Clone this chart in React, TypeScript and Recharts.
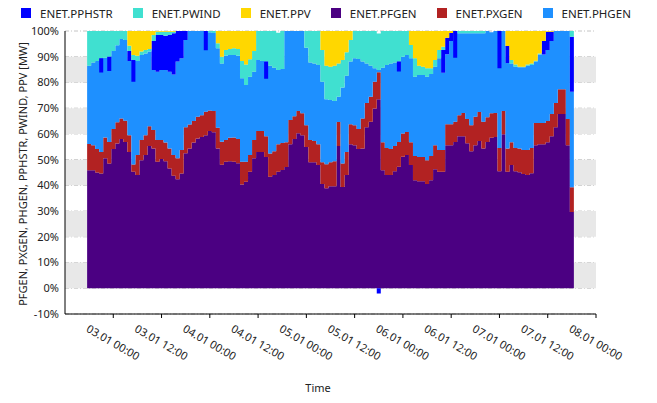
import { AreaChart, Area, XAxis, YAxis, CartesianGrid, ReferenceArea, Label } from 'recharts';

const FONT = '"Noto Sans", "DejaVu Sans", sans-serif';

// hours counted from 02.01 12:00; first sample is 02.01 18:00, one sample per hour
const firstHour = 6;

// shares of the total, in %
const pfgen = [
  45.9, 45.9, 45.0, 44.6, 50.5, 48.5, 54.1, 56.3, 58.0, 56.9,
  53.0, 45.3, 44.0, 49.8, 51.8, 55.3, 54.3, 49.2, 50.2, 49.4,
  46.6, 43.7, 42.4, 44.6, 52.5, 54.3, 56.7, 58.2, 58.8, 59.5,
  61.1, 60.6, 54.3, 48.0, 49.2, 49.4, 49.2, 48.6, 40.3, 41.4,
  45.3, 50.5, 53.0, 53.0, 51.0, 43.3, 44.0, 45.3, 46.0, 47.1,
  56.0, 58.0, 60.3, 59.5, 54.9, 49.0, 49.0, 47.9, 40.5, 38.9,
  39.7, 39.7, 55.3, 39.4, 44.0, 56.0, 55.6, 54.1, 54.3, 62.6,
  64.7, 69.9, 73.5, 45.9, 44.0, 44.0, 45.5, 47.2, 51.1, 51.8,
  47.9, 42.0, 41.6, 41.6, 40.5, 42.0, 46.3, 45.3, 45.3, 55.6,
  55.6, 56.9, 59.1, 59.1, 56.4, 53.3, 55.6, 57.2, 54.3, 56.9,
  58.5, 58.8, 45.5, 59.9, 45.3, 47.9, 45.5, 45.1, 44.4, 44.0,
  44.7, 55.6, 56.0, 56.0, 56.8, 59.1, 62.6, 67.7, 67.7, 55.6, 29.6,
];
const pxgen = [
  10.2, 9.7, 9.1, 8.4, 8.1, 8.4, 7.8, 8.2, 8.0, 8.2,
  6.5, 2.8, 7.8, 7.8, 7.7, 7.7, 7.2, 8.4, 7.4, 7.3,
  7.7, 8.1, 8.1, 9.1, 10.1, 9.4, 8.3, 8.5, 8.5, 9.1,
  8.0, 8.3, 8.1, 9.0, 8.4, 9.1, 9.4, 9.4, 8.9, 7.8,
  6.5, 7.1, 8.1, 8.1, 8.1, 9.1, 9.3, 10.7, 10.5, 9.7,
  9.4, 8.9, 8.6, 8.5, 8.5, 8.6, 8.2, 8.1, 8.5, 9.3,
  9.3, 9.7, 9.3, 9.1, 9.0, 7.8, 7.8, 7.8, 11.7, 9.4,
  9.7, 10.4, 10.5, 10.9, 10.5, 10.1, 9.8, 9.7, 9.1, 8.9,
  8.9, 9.4, 9.4, 9.4, 9.3, 9.4, 9.3, 8.4, 8.4, 8.2,
  8.2, 7.8, 8.2, 9.0, 9.4, 10.1, 11.1, 11.3, 10.4, 9.6,
  9.5, 9.3, 9.0, 9.0, 9.0, 8.9, 9.0, 9.2, 9.3, 9.7,
  9.8, 8.6, 8.2, 8.2, 8.2, 8.6, 9.4, 9.7, 9.7, 10.2, 9.7,
];
const phgen = [
  30.4, 32.2, 34.2, 36.4, 31.0, 33.1, 30.3, 30.0, 30.9, 31.4,
  28.8, 40.6, 36.5, 33.1, 31.8, 29.0, 23.3, 26.6, 27.2, 28.1,
  29.9, 31.3, 37.6, 35.7, 33.9, 36.3, 35.0, 33.3, 32.7, 31.4,
  30.4, 30.3, 30.9, 30.4, 32.8, 32.2, 32.1, 32.4, 32.4, 29.8,
  30.4, 26.6, 27.6, 27.2, 29.0, 34.1, 32.4, 28.8, 28.7, 43.2,
  34.6, 33.1, 31.1, 32.0, 30.1, 30.2, 30.2, 30.8, 31.3, 25.3,
  24.2, 23.4, 9.8, 29.5, 29.6, 24.3, 26.0, 27.2, 22.1, 15.4,
  12.1, 5.2, 0.8, 28.9, 32.3, 33.3, 32.5, 31.2, 29.8, 30.0,
  32.6, 30.8, 31.9, 31.9, 32.4, 31.9, 30.5, 35.7, 30.1, 27.2,
  32.3, 35.3, 31.8, 31.0, 33.3, 35.7, 32.4, 30.6, 34.4, 33.5,
  31.5, 31.9, 45.5, 31.1, 33.3, 30.6, 31.6, 31.6, 32.2, 32.8,
  32.3, 23.9, 26.7, 26.7, 27.6, 28.4, 28.0, 22.9, 22.9, 34.2, 37.1,
];
// negative = pumping
const pphstr = [
  0, 0, 0, -5.5, 0, -5.5, 0, 0, 0, 0,
  3.9, -8.4, 0, 0, 0, 0, 11.3, 14.2, 13.6, 13.4,
  14.2, 16.0, 11.9, 10.6, 3.5, 0, 0, 0, 0, -7.5,
  0, 0, 0, 0, 0, 0, 0, 0, 0, 0,
  0, 0, 0, 0, -6.7, 0, 0, 0, 0, 0,
  0, 0, 0, 0, 0, 0, 0, 0, 0, 0,
  0, 0, 0, 0, 0, 0, 0, 0, 0, 0,
  0, 0, 0, 0, 0, 0, 0, -3.8, 0, 0,
  0, 0, 0, 0, 0, 0, 0, 0, 8.8, 6.4,
  3.1, -10.4, 0, 0, 0, 0, 0, 0, 0, 0,
  0, 0, -14.5, 0, 6.6, 0, 0, 0, 0, 0,
  0, 0, 0, 5.2, 7.1, 3.6, 0, 0, 0, 0, 21.4,
];
const pwind = [
  13.5, 12.2, 11.7, 10.6, 10.4, 10.0, 7.8, 5.5, 3.1, 3.5,
  2.1, 2.0, 2.1, 1.3, 1.3, 1.0, 2.3, 1.3, 1.3, 1.5,
  1.3, 0.6, 0, 0, 0, 0, 0, 0, 0, 0,
  0.5, 0.8, 1.9, 2.6, 2.2, 2.3, 2.6, 2.6, 6.7, 8.0,
  6.8, 8.0, 11.3, 11.7, 11.9, 13.5, 14.3, 14.5, 14.8, 0,
  0, 0, 0, 0, 6.5, 12.2, 12.6, 13.2, 12.3, 13.0,
  12.9, 13.7, 13.0, 10.7, 9.1, 8.4, 10.6, 10.9, 11.9, 12.6,
  13.5, 14.5, 14.2, 14.3, 13.2, 12.6, 12.2, 11.9, 10.0, 9.3,
  5.2, 7.2, 3.6, 3.2, 3.3, 2.2, 2.6, 3.2, 1.3, 0,
  0, 0, 0.9, 0.9, 0.9, 0.9, 0.9, 0.9, 0.9, 0,
  0, 0, 0, 0, 0, 1.3, 0.9, 0.2, 0.2, 0.5,
  0.6, 0.3, 0.4, 0, 0, 0, 0, 0, 0, 0, 2.2,
];
const ppv = [
  0, 0, 0, 0, 0, 0, 0, 0, 0, 0,
  5.7, 9.3, 9.6, 8.0, 7.4, 7.0, 1.6, 0.3, 0.3, 0.3,
  0.3, 0.3, 0, 0, 0, 0, 0, 0, 0, 0,
  0, 0, 4.8, 10.0, 7.4, 7.0, 6.7, 7.0, 11.7, 13.0,
  11.0, 7.8, 0, 0, 0, 0, 0, 0, 0, 0,
  0, 0, 0, 0, 0, 0, 0, 0, 7.4, 13.5,
  13.9, 13.5, 12.6, 11.3, 8.3, 3.5, 0, 0, 0, 0,
  0, 0, 0, 0, 0, 0, 0, 0, 0, 0,
  5.4, 10.6, 13.5, 13.9, 14.5, 14.5, 11.3, 7.4, 6.1, 2.6,
  0.8, 0, 0, 0, 0, 0, 0, 0, 0, 0,
  0, 0, 0, 0, 5.8, 11.3, 13.0, 13.9, 13.9, 13.0,
  12.6, 11.6, 8.7, 3.9, 0.3, 0.3, 0, 0, 0, 0, 0,
];
// pumping drawn below the zero line: [hour, share]
const pphstrBelowZero = [[78, -2]];

const xTicks = [12, 24, 36, 48, 60, 72, 84, 96, 108, 120, 132];
const xTickLabels = [
  '03.01 00:00', '03.01 12:00', '04.01 00:00', '04.01 12:00', '05.01 00:00', '05.01 12:00',
  '06.01 00:00', '06.01 12:00', '07.01 00:00', '07.01 12:00', '08.01 00:00',
];
const yTicks = [-10, 0, 10, 20, 30, 40, 50, 60, 70, 80, 90, 100];
const grayBands = [[0, 10], [20, 30], [40, 50], [60, 70], [80, 90]];

const legendNames = ['ENET.PPHSTR', 'ENET.PWIND', 'ENET.PPV', 'ENET.PFGEN', 'ENET.PXGEN', 'ENET.PHGEN'];
const COLORS: Record<string, string> = {
  'ENET.PPHSTR': '#0000FF',
  'ENET.PWIND': '#40E0D0',
  'ENET.PPV': '#FFD700',
  'ENET.PFGEN': '#4B0082',
  'ENET.PXGEN': '#B22222',
  'ENET.PHGEN': '#1E90FF',
};

const rows: any[] = pfgen.map((f, i) => {
  const hour = firstHour + i;
  const x = f + pxgen[i];
  const h = x + phgen[i];
  const s = h + Math.max(pphstr[i], 0);
  const w = s + pwind[i];
  const v = w + ppv[i];
  const neg = Math.min(pphstr[i], 0);
  const below = pphstrBelowZero.find((p) => p[0] === hour);
  return {
    t: hour - 0.5,
    fg: [0, f],
    xg: [f, x],
    hg: [x, h],
    hs: [h, s],
    wi: [s, w],
    pv: [w, v],
    hn: [h + neg, h],
    bz: [below ? below[1] : 0, 0],
  };
});
// close the last hourly step
rows.push({ ...rows[rows.length - 1], t: rows[rows.length - 1].t + 1 });

const layers = [
  { key: 'fg', color: COLORS['ENET.PFGEN'] },
  { key: 'xg', color: COLORS['ENET.PXGEN'] },
  { key: 'hg', color: COLORS['ENET.PHGEN'] },
  { key: 'hs', color: COLORS['ENET.PPHSTR'] },
  { key: 'wi', color: COLORS['ENET.PWIND'] },
  { key: 'pv', color: COLORS['ENET.PPV'] },
  { key: 'hn', color: COLORS['ENET.PPHSTR'] },
  { key: 'bz', color: COLORS['ENET.PPHSTR'] },
];

function XTick({ x, y, payload }: any) {
  const label = xTickLabels[xTicks.indexOf(payload.value)];
  const cy = y + 22;
  return (
    <text
      x={x}
      y={cy}
      transform={`rotate(30 ${x} ${cy})`}
      textAnchor="middle"
      dominantBaseline="central"
      fontSize={11}
      fontFamily={FONT}
      fill="#222"
    >
      {label}
    </text>
  );
}

export default function App() {
  return (
    <div style={{ position: 'absolute', left: 0, top: 0, width: 657, height: 403, background: '#fff' }}>
      <AreaChart width={657} height={403} data={rows} margin={{ top: 31, right: 61, bottom: 0, left: 0 }}>
        {grayBands.map(([a, b]) => (
          <ReferenceArea key={a} y1={a} y2={b} fill="#e8e8e8" fillOpacity={1} stroke="none" />
        ))}
        <CartesianGrid vertical={false} stroke="#c4c4c4" strokeDasharray="4 2 1 2" />
        <XAxis
          type="number"
          dataKey="t"
          domain={[0, 132]}
          ticks={xTicks}
          interval={0}
          tick={<XTick />}
          tickSize={4}
          axisLine={{ stroke: '#000' }}
          tickLine={{ stroke: '#000' }}
          height={89}
          allowDataOverflow
        >
          <Label
            content={() => (
              <text x={318} y={387} textAnchor="middle" dominantBaseline="central" fontSize={11} fontFamily={FONT} fill="#222">
                Time
              </text>
            )}
          />
        </XAxis>
        <YAxis
          type="number"
          domain={[-10, 100]}
          ticks={yTicks}
          interval={0}
          tickFormatter={(v) => `${v}%`}
          tick={{ fontSize: 11, fontFamily: FONT, fill: '#222' }}
          tickLine={false}
          tickSize={4}
          tickMargin={2}
          axisLine={{ stroke: '#000' }}
          width={65}
          allowDataOverflow
        >
          <Label
            content={() => (
              <text
                x={22}
                y={174}
                transform="rotate(-90 22 174)"
                textAnchor="middle"
                dominantBaseline="central"
                fontSize={11}
                fontFamily={FONT}
                fill="#222"
              >
                PFGEN, PXGEN, PHGEN, PPHSTR, PWIND, PPV [MW]
              </text>
            )}
          />
        </YAxis>
        {layers.map((l) => (
          <Area
            key={l.key}
            dataKey={l.key}
            type="stepAfter"
            fill={l.color}
            fillOpacity={1}
            stroke="none"
            dot={false}
            activeDot={false}
            isAnimationActive={false}
          />
        ))}
      </AreaChart>
      <div
        style={{
          position: 'absolute',
          left: 21,
          top: 5,
          height: 16,
          display: 'flex',
          alignItems: 'center',
          fontFamily: FONT,
          fontSize: 11.5,
          color: '#222',
          whiteSpace: 'nowrap',
        }}
      >
        {legendNames.map((n) => (
          <span key={n} style={{ display: 'flex', alignItems: 'center', marginRight: 20 }}>
            <span style={{ width: 10, height: 10, background: COLORS[n], marginRight: 9 }} />
            {n}
          </span>
        ))}
      </div>
    </div>
  );
}
